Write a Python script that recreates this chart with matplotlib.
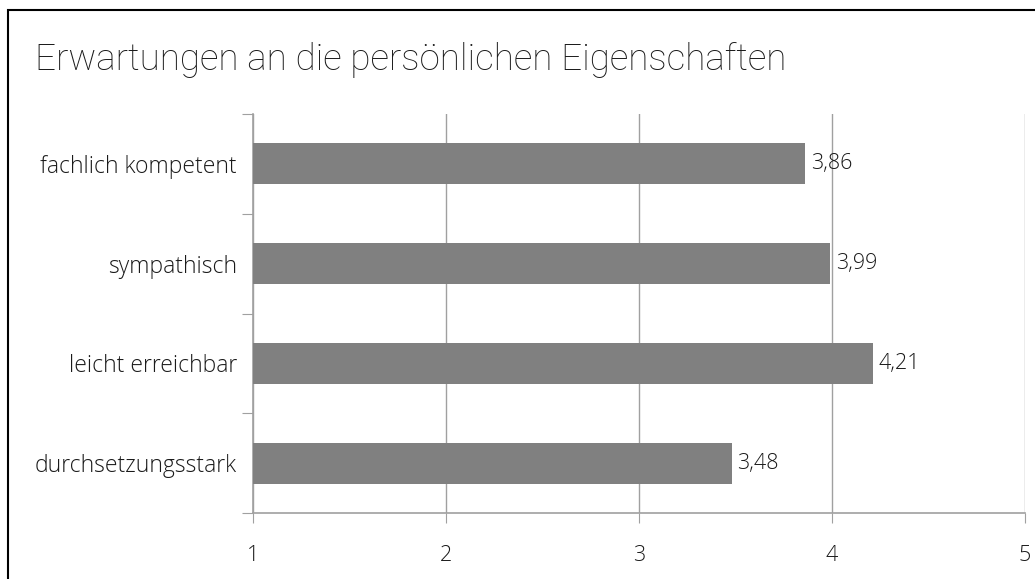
import matplotlib.pyplot as plt
from matplotlib.patches import Rectangle

categories = ['fachlich kompetent', 'sympathisch', 'leicht erreichbar', 'durchsetzungsstark']
values = [3.86, 3.99, 4.21, 3.48]
xticks = [1, 2, 3, 4, 5]
title = 'Erwartungen an die persönlichen Eigenschaften'

plt.rcParams['font.family'] = ['Open Sans', 'DejaVu Sans']
lab_font = dict(family=['Open Sans', 'DejaVu Sans'], size=15.5, weight='light')

fig = plt.figure(figsize=(10.35, 5.79), dpi=100)
ax = fig.add_axes([253 / 1035, 1 - 513 / 579, 772 / 1035, 399 / 579])

# frame around the chart
fig.patches.append(Rectangle((8 / 1035, -0.05), 1.1, 1 - 10 / 579 + 0.05,
                             transform=fig.transFigure, fill=False,
                             edgecolor='black', linewidth=1.5))

n = len(categories)
pos = [n - 1 - i for i in range(n)]
ax.barh(pos, values, height=0.41, color='#808080', zorder=3)
for p, v in zip(pos, values):
    ax.text(v + 0.03, p, f'{v:.2f}'.replace('.', ','), va='center', ha='left',
            color='#1a1a1a', zorder=4, **lab_font)

ax.set_xlim(1, 5)
ax.set_ylim(-0.5, n - 0.5)
ax.set_xticks(xticks)
ax.set_xticklabels([str(t) for t in xticks], color='#1a1a1a', **lab_font)
ax.tick_params(axis='x', length=7, color='#a0a0a0', pad=16)
ax.grid(axis='x', color='#a0a0a0', linewidth=1, zorder=0)

ax.set_yticks([i - 0.5 for i in range(n + 1)])
ax.set_yticklabels([])
ax.set_yticks(pos, minor=True)
ax.set_yticklabels(categories, minor=True, color='#1a1a1a',
                   family=['Open Sans', 'DejaVu Sans'], size=16.5, weight='light')
ax.tick_params(axis='y', which='major', length=8, color='#a0a0a0')
ax.tick_params(axis='y', which='minor', length=0, pad=11.5)

for s in ['top', 'right']:
    ax.spines[s].set_visible(False)
for s in ['left', 'bottom']:
    ax.spines[s].set_color('#a0a0a0')
    ax.spines[s].set_linewidth(1.2)

fig.text(35 / 1035, 1 - 60 / 579, title, family=['Roboto', 'DejaVu Sans'],
         fontweight='light', fontsize=26.5, va='center', ha='left', color='#1a1a1a')

fig.savefig('out.png', dpi=100)
